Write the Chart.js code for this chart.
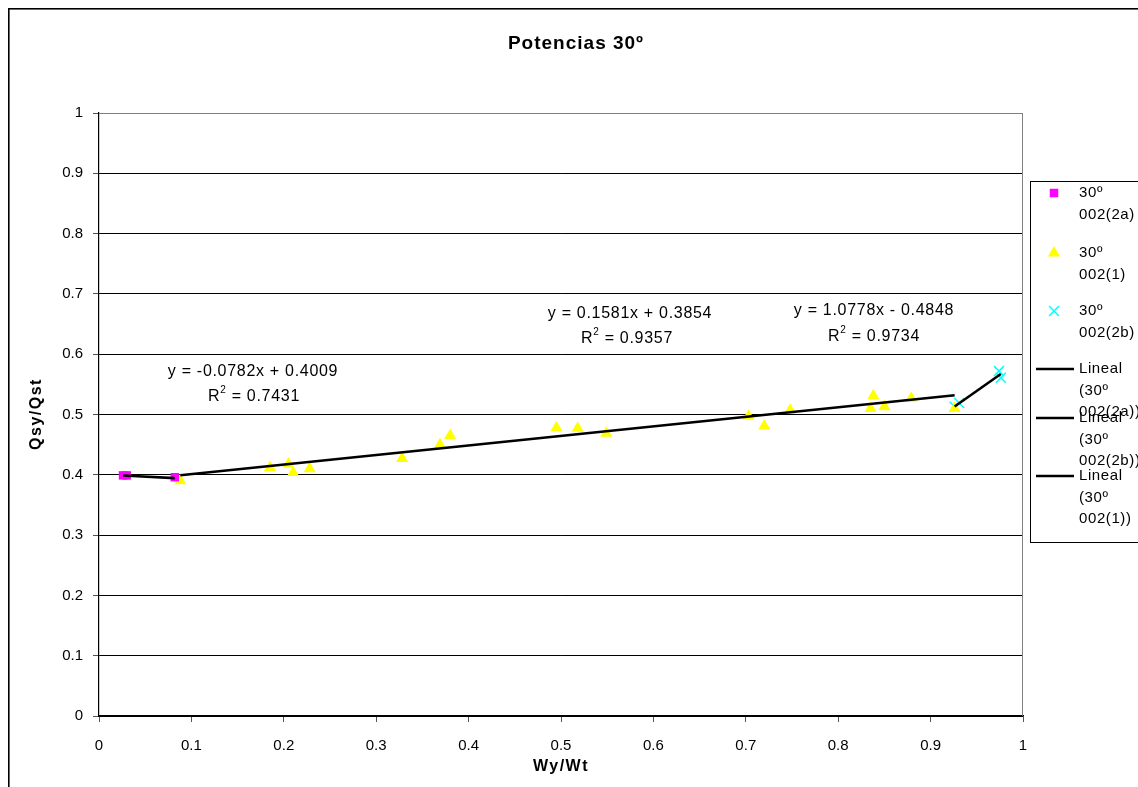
<!DOCTYPE html>
<html>
<head>
<meta charset="utf-8">
<script src="https://cdn.jsdelivr.net/npm/chart.js@4.4.1/dist/chart.umd.min.js"></script>
<style>
  html, body { margin: 0; padding: 0; background: #fff; overflow: hidden; }
  canvas { display: block; }
</style>
</head>
<body>
<canvas id="chart" width="1138" height="787"></canvas>
<script>
// ---- text ----
const chartTitle = 'Potencias 30º';
const xAxisTitle = 'Wy/Wt';
const yAxisTitle = 'Qsy/Qst';
const xTickLabels = ['0', '0.1', '0.2', '0.3', '0.4', '0.5', '0.6', '0.7', '0.8', '0.9', '1'];
const yTickLabels = ['0', '0.1', '0.2', '0.3', '0.4', '0.5', '0.6', '0.7', '0.8', '0.9', '1'];

// ---- measured series ----
const seriesNames = ['30º 002(2a)', '30º 002(1)', '30º 002(2b)'];

const x2a = [0.026, 0.030, 0.082];
const y2a = [0.399, 0.399, 0.396];

const x1 = [0.088, 0.185, 0.205, 0.210, 0.228, 0.328, 0.369, 0.380, 0.495, 0.518,
            0.549, 0.703, 0.720, 0.748, 0.835, 0.838, 0.850, 0.879, 0.926];
const y1 = [0.390, 0.412, 0.418, 0.404, 0.410, 0.427, 0.450, 0.465, 0.478, 0.477,
            0.469, 0.497, 0.481, 0.507, 0.510, 0.531, 0.513, 0.527, 0.510];

const x2b = [0.926, 0.931, 0.974, 0.976];
const y2b = [0.513, 0.519, 0.572, 0.561];

// ---- linear fits (Lineal) for 2a, 2b and 1 ----
const fitNames = ['Lineal (30º 002(2a))', 'Lineal (30º 002(2b))', 'Lineal (30º 002(1))'];
const fitSlope = [-0.0782, 1.0778, 0.1581];
const fitIntercept = [0.4009, -0.4848, 0.3854];
const fitR2 = [0.7431, 0.9734, 0.9357];

const zip = (xs, ys) => xs.map((x, i) => ({ x, y: ys[i] }));
const fitLine = (xs, k) => {
  const lo = Math.min(...xs), hi = Math.max(...xs);
  return [lo, hi].map(x => ({ x, y: fitSlope[k] * x + fitIntercept[k] }));
};
const fitSources = [x2a, x2b, x1];

const datasets = [
  { label: seriesNames[0], data: zip(x2a, y2a), pointStyle: 'rect', pointRadius: 6,
    backgroundColor: '#ff00ff', borderColor: '#ff00ff', borderWidth: 0, showLine: false, order: 2 },
  { label: seriesNames[1], data: zip(x1, y1), pointStyle: 'triangle', pointRadius: 7,
    backgroundColor: '#ffff00', borderColor: '#ffff00', borderWidth: 0, showLine: false, order: 2 },
  { label: seriesNames[2], data: zip(x2b, y2b), pointStyle: 'crossRot', pointRadius: 7,
    backgroundColor: '#00ffff', borderColor: '#00ffff', borderWidth: 1.5, showLine: false, order: 2 }
];
fitNames.forEach((name, k) => {
  datasets.push({
    type: 'line', label: name, data: fitLine(fitSources[k], k),
    borderColor: '#000', borderWidth: 2.6, pointRadius: 0, fill: false, order: 0
  });
});

// ---- helpers for drawn text ----
function drawText(ctx, s, x, y, font, align, spacing) {
  ctx.save();
  ctx.font = font;
  ctx.letterSpacing = (spacing || 0) + 'px';
  ctx.fillStyle = '#000';
  ctx.textBaseline = 'middle';
  let w = ctx.measureText(s).width;
  let sx = align === 'center' ? x - w / 2 : (align === 'right' ? x - w : x);
  ctx.textAlign = 'left';
  ctx.fillText(s, sx, y);
  ctx.restore();
}

function drawR2(ctx, value, cx, cy, size, spacing) {
  ctx.save();
  ctx.fillStyle = '#000';
  ctx.textBaseline = 'middle';
  ctx.letterSpacing = spacing + 'px';
  const main = `${size}px Arial, "Liberation Sans", sans-serif`;
  const sup = `${Math.round(size * 0.65)}px Arial, "Liberation Sans", sans-serif`;
  ctx.font = main;
  const wR = ctx.measureText('R').width;
  const rest = ' = ' + value.toFixed(4);
  const wRest = ctx.measureText(rest).width;
  ctx.font = sup;
  const w2 = ctx.measureText('2').width;
  const total = wR + w2 + wRest;
  let x = cx - total / 2;
  ctx.font = main;
  ctx.fillText('R', x, cy);
  x += wR;
  ctx.font = sup;
  ctx.fillText('2', x, cy - size * 0.45);
  x += w2;
  ctx.font = main;
  ctx.fillText(rest, x, cy);
  ctx.restore();
}

function eqText(k) {
  const b = fitIntercept[k];
  const sign = b < 0 ? '- ' : '+ ';
  return `y = ${fitSlope[k].toFixed(4)}x ${sign}${Math.abs(b).toFixed(4)}`;
}

const FONT = 'Arial, "Liberation Sans", sans-serif';

const decorations = {
  id: 'decorations',
  beforeDraw(chart) {
    const ctx = chart.ctx;
    ctx.save();
    ctx.fillStyle = '#fff';
    ctx.fillRect(0, 0, chart.width, chart.height);
    // outer chart frame
    ctx.strokeStyle = '#000';
    ctx.lineWidth = 1.6;
    ctx.strokeRect(8.8, 8.8, 1160, 820);
    ctx.restore();
  },
  beforeDatasetsDraw(chart) {
    const ctx = chart.ctx, a = chart.chartArea;
    ctx.save();
    ctx.strokeStyle = '#808080';
    ctx.lineWidth = 1;
    ctx.beginPath();
    ctx.moveTo(a.left, a.top + 0.5);
    ctx.lineTo(a.right - 0.5, a.top + 0.5);
    ctx.lineTo(a.right - 0.5, a.bottom);
    ctx.stroke();
    ctx.restore();
  },
  afterDraw(chart) {
    const ctx = chart.ctx;
    // chart title
    drawText(ctx, chartTitle, 576, 44, `bold 19px ${FONT}`, 'center', 1);
    // axis titles
    drawText(ctx, xAxisTitle, 561, 767, `bold 16px ${FONT}`, 'center', 1.5);
    ctx.save();
    ctx.translate(37, 414);
    ctx.rotate(-Math.PI / 2);
    drawText(ctx, yAxisTitle, 0, 0, `bold 16px ${FONT}`, 'center', 1.5);
    ctx.restore();

    // regression equations (2a, 2b, 1)
    const eqPos = [[253, 372, 254, 397], [874, 311, 874, 337], [630, 314, 627, 339]];
    eqPos.forEach((p, k) => {
      drawText(ctx, eqText(k), p[0], p[1], `16px ${FONT}`, 'center', 0.7);
      drawR2(ctx, fitR2[k], p[2], p[3], 16, 0.7);
    });

    // legend
    ctx.save();
    ctx.strokeStyle = '#000';
    ctx.lineWidth = 1;
    ctx.strokeRect(1030.5, 181.5, 200, 361);
    ctx.restore();
    const lx = 1079, lf = `15px ${FONT}`, lh = 21.5;
    const entries = [
      { y: 193, lines: ['30º', '002(2a)'], mark: 'rect' },
      { y: 253, lines: ['30º', '002(1)'], mark: 'triangle' },
      { y: 311, lines: ['30º', '002(2b)'], mark: 'cross' },
      { y: 369, lines: ['Lineal', '(30º', '002(2a))'], mark: 'line' },
      { y: 418, lines: ['Lineal', '(30º', '002(2b))'], mark: 'line' },
      { y: 476, lines: ['Lineal', '(30º', '002(1))'], mark: 'line' }
    ];
    const dsFor = { rect: 0, triangle: 1, cross: 2 };
    entries.forEach(e => {
      ctx.save();
      if (e.mark === 'line') {
        ctx.strokeStyle = '#000';
        ctx.lineWidth = 2.6;
        ctx.beginPath();
        ctx.moveTo(1036, e.y);
        ctx.lineTo(1074, e.y);
        ctx.stroke();
      } else {
        const ds = datasets[dsFor[e.mark]];
        ctx.fillStyle = ds.backgroundColor;
        ctx.strokeStyle = ds.borderColor;
        ctx.lineWidth = ds.borderWidth || 1;
        Chart.helpers.drawPoint(ctx, {
          pointStyle: ds.pointStyle, rotation: 0, borderWidth: ds.borderWidth,
          radius: ds.pointRadius
        }, 1054, e.y);
      }
      ctx.restore();
      e.lines.forEach((t, i) => drawText(ctx, t, lx, e.y + i * lh, lf, 'left', 0.6));
    });
  }
};

new Chart(document.getElementById('chart'), {
  type: 'scatter',
  data: { datasets },
  options: {
    responsive: false,
    animation: false,
    layout: { padding: { left: 0, right: 115, top: 113, bottom: 0 } },
    plugins: { legend: { display: false }, title: { display: false }, tooltip: { enabled: false } },
    scales: {
      x: {
        type: 'linear', min: 0, max: 1,
        afterFit: s => { s.height = 71; },
        ticks: {
          stepSize: 0.1, padding: 15, color: '#000', maxRotation: 0,
          font: { family: 'Arial, "Liberation Sans", sans-serif', size: 15 },
          callback: (v, i) => xTickLabels[i]
        },
        grid: { drawOnChartArea: false, drawTicks: true, tickLength: 6, tickColor: '#555', lineWidth: 1 },
        border: { display: true, color: '#000', width: 1.2 }
      },
      y: {
        type: 'linear', min: 0, max: 1,
        afterFit: s => { s.width = 99; },
        ticks: {
          stepSize: 0.1, padding: 10, color: '#000',
          font: { family: 'Arial, "Liberation Sans", sans-serif', size: 15 },
          callback: (v, i) => yTickLabels[i]
        },
        grid: {
          drawTicks: true, tickLength: 6, tickColor: '#555', lineWidth: 1,
          color: c => (c.tick && c.tick.value === 1 ? '#808080' : '#000')
        },
        border: { display: true, color: '#000', width: 1.2 }
      }
    }
  },
  plugins: [decorations]
});
</script>
</body>
</html>
